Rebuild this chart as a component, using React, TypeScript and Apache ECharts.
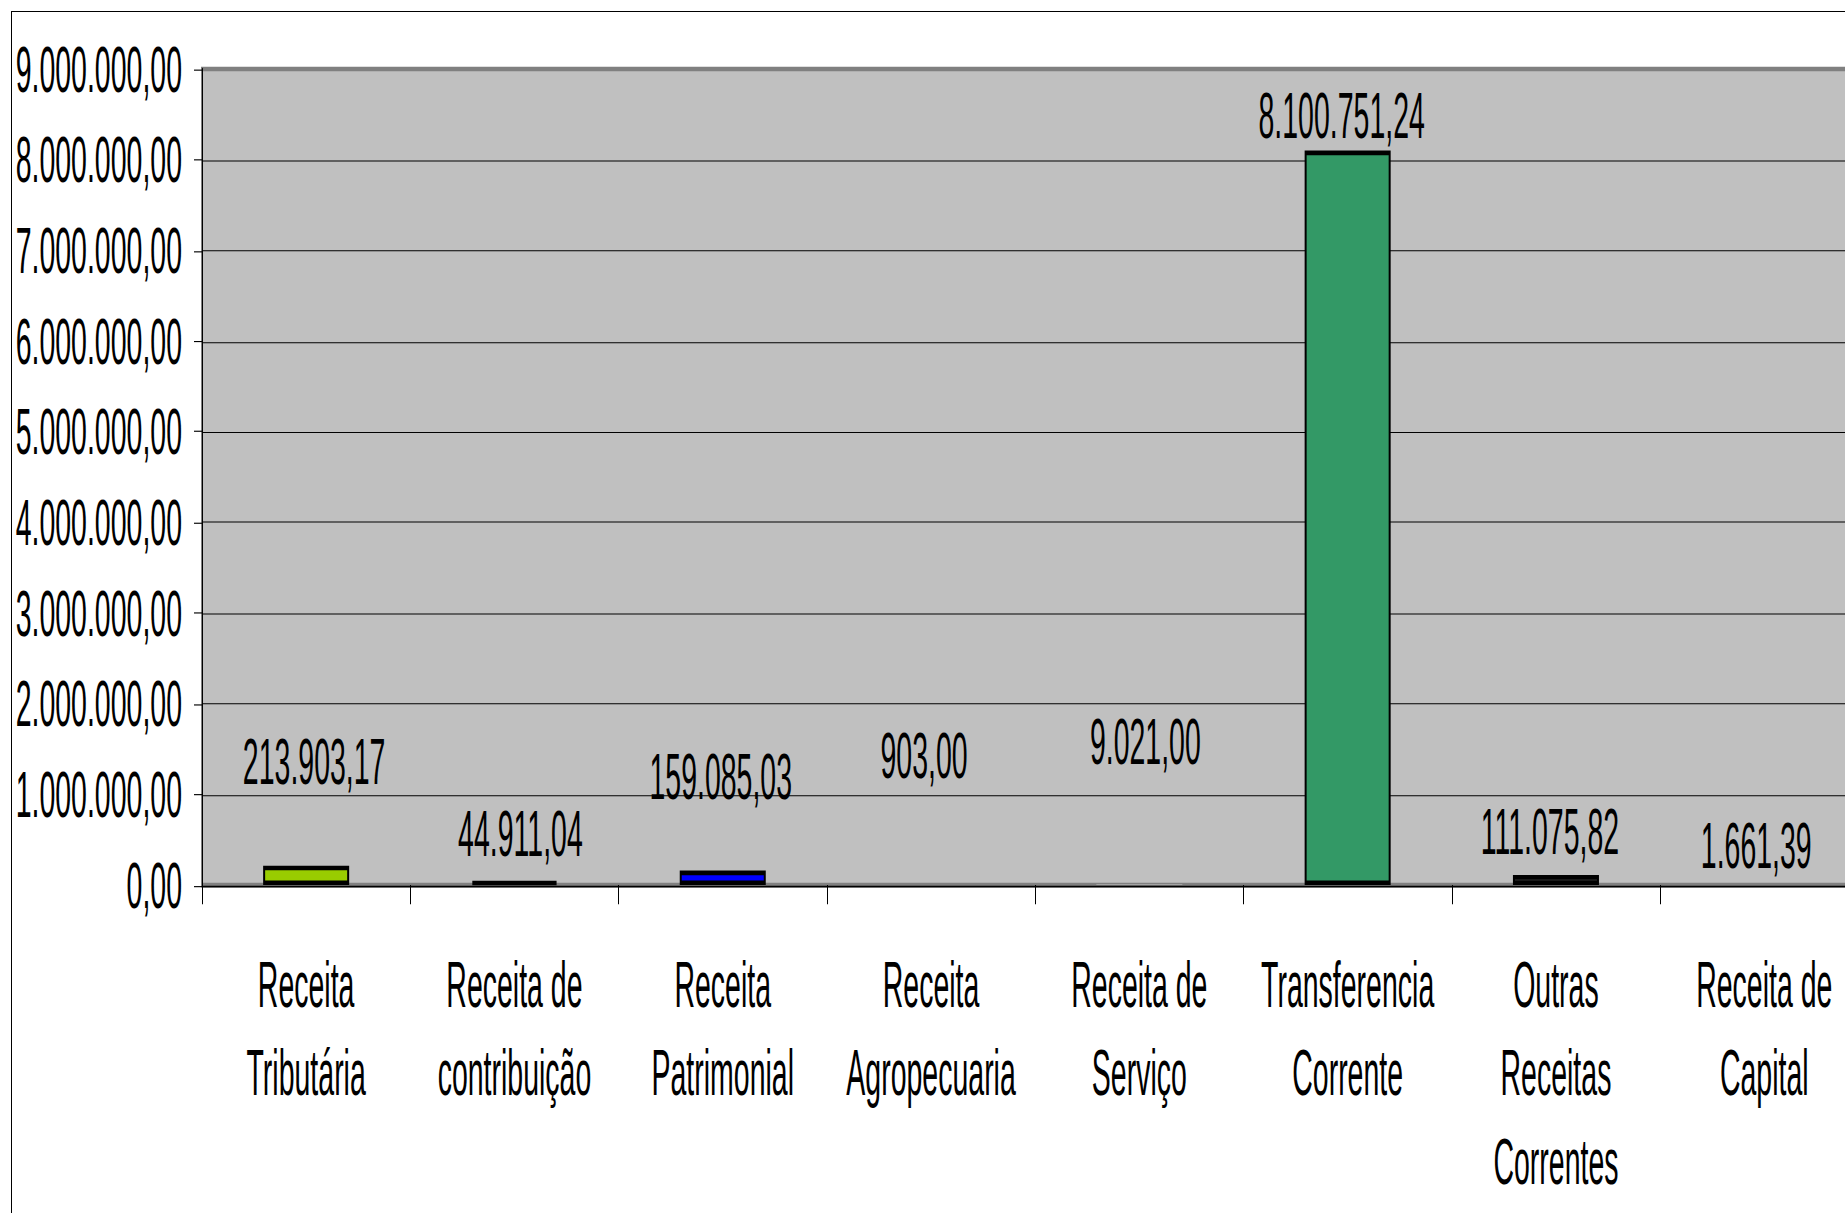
import React, { useEffect, useRef } from "react";
import * as echarts from "echarts";

const categories = [
  "Receita\nTributária",
  "Receita de\ncontribuição",
  "Receita\nPatrimonial",
  "Receita\nAgropecuaria",
  "Receita de\nServiço",
  "Transferencia\nCorrente",
  "Outras\nReceitas\nCorrentes",
  "Receita de\nCapital",
];
const values = [213903.17, 44911.04, 159085.03, 903.0, 9021.0, 8100751.24, 111075.82, 1661.39];
const barColors = ["#99CC00", "#111111", "#0000FF", "#B0B0B0", "#B0B0B0", "#339966", "#333333", "#B0B0B0"];
// label nudges [dx, dy] (chart units) mimicking the manually placed labels
const labelShift: [number, number][] = [
  [8, -30.5],
  [6, -5.8],
  [-2, -25.9],
  [-7, -41.5],
  [6, -47.2],
  [-6, -0.2],
  [-6, -3.9],
  [-8, -2.3],
];
const yMin = 0;
const yMax = 9000000;
const yStep = 1000000;

const K = 2.3; // vertical stretch of the original picture
const FONT = "'Liberation Sans', Arial, sans-serif";

function fmtBR(v: number): string {
  const fixed = Math.abs(v).toFixed(2);
  const [int, dec] = fixed.split(".");
  const intDots = int.replace(/\B(?=(\d{3})+(?!\d))/g, ".");
  return (v < 0 ? "-" : "") + intDots + "," + dec;
}

export default function App() {
  const ref = useRef<HTMLDivElement>(null);
  useEffect(() => {
    if (!ref.current) return;
    const chart = echarts.init(ref.current, undefined, { renderer: "svg" });
    const data = values.map((v, i) => ({
      value: v,
      itemStyle: {
        color: barColors[i],
        borderColor: "#000",
        borderWidth: v >= 20000 ? 2 : 0,
      },
      label: { offset: labelShift[i] },
    }));
    chart.setOption({
      animation: false,
      grid: {
        left: 202,
        top: 30,
        width: 1666.4,
        height: 354.8,
        show: true,
        backgroundColor: "#C0C0C0",
        borderColor: "#808080",
        borderWidth: 2,
        containLabel: false,
        outerBoundsMode: "none",
      },
      xAxis: {
        type: "category",
        data: categories,
        boundaryGap: true,
        offset: 1,
        axisLine: { show: true, lineStyle: { color: "#000", width: 0.7 } },
        axisTick: { show: true, interval: 0, length: 8.3, lineStyle: { color: "#000", width: 1 } },
        axisLabel: {
          interval: 0,
          margin: 22.8,
          fontSize: 28.5,
          lineHeight: 38.5,
          color: "#000",
          fontFamily: FONT,
        },
        splitLine: { show: false },
      },
      yAxis: {
        type: "value",
        min: yMin,
        max: yMax,
        interval: yStep,
        axisLine: { show: true, lineStyle: { color: "#000", width: 1 } },
        axisTick: { show: true, length: 8, lineStyle: { color: "#000", width: 0.5 } },
        axisLabel: {
          margin: 20,
          fontSize: 28.5,
          color: "#000",
          fontFamily: FONT,
          formatter: (v: number) => fmtBR(v),
        },
        splitLine: {
          show: true,
          showMinLine: false,
          showMaxLine: false,
          lineStyle: { color: "#000", width: 0.45 },
        },
      },
      series: [
        {
          type: "bar",
          data,
          barWidth: "41.3%",
          label: {
            show: true,
            position: "top",
            distance: 0,
            fontSize: 28.5,
            lineHeight: 30,
            color: "#000",
            fontFamily: FONT,
            formatter: (p: any) => fmtBR(p.value),
          },
        },
      ],
    });
    return () => chart.dispose();
  }, []);

  return (
    <div
      style={{
        position: "fixed",
        left: 0,
        top: 0,
        width: 1845,
        height: 1213,
        overflow: "hidden",
        background: "#fff",
      }}
    >
      <div
        style={{
          position: "absolute",
          left: 0,
          top: 0,
          width: 1900,
          height: 528,
          transform: `scaleY(${K})`,
          transformOrigin: "0 0",
        }}
      >
        <div ref={ref} style={{ width: 1900, height: 528 }} />
      </div>
      <div
        style={{
          position: "absolute",
          left: 11,
          top: 11,
          width: 2000,
          height: 2000,
          borderLeft: "1px solid #000",
          borderTop: "1px solid #000",
          pointerEvents: "none",
        }}
      />
    </div>
  );
}
